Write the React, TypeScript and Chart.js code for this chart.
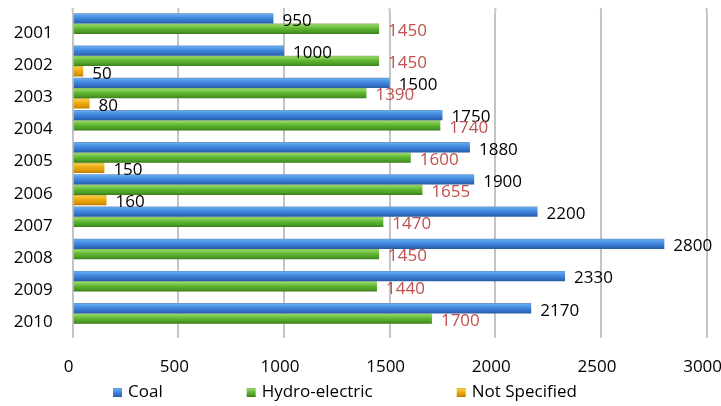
import { useEffect, useRef } from "react";
import { Chart, registerables } from "chart.js";

Chart.register(...registerables);

// Electricity generation by source, 2001–2010
const years = ["2001", "2002", "2003", "2004", "2005", "2006", "2007", "2008", "2009", "2010"];
const coal = [950, 1000, 1500, 1750, 1880, 1900, 2200, 2800, 2330, 2170];
const hydro = [1450, 1450, 1390, 1740, 1600, 1655, 1470, 1450, 1440, 1700];
const notSpecified = [null, 50, 80, null, 150, 160, null, null, null, null];
const seriesNames = ["Coal", "Hydro-electric", "Not Specified"];
const xMin = 0;
const xMax = 3000;
const xStep = 500;

const FONT = '"Open Sans", "Noto Sans", sans-serif';
const GRID = "#c4c4c4";

// Vertical shading stops for each series (top edge -> bottom edge)
const shades: [number, string][][] = [
  [[0, "#6a8fbe"], [0.12, "#62a8ee"], [0.45, "#4189dd"], [0.8, "#306dc2"], [1, "#2a5a9e"]],
  [[0, "#86b062"], [0.12, "#93d661"], [0.45, "#62b834"], [0.8, "#4b9b25"], [1, "#3a7a1a"]],
  [[0, "#caa23e"], [0.12, "#f8ca44"], [0.45, "#ebab12"], [0.8, "#da9500"], [1, "#b87c00"]],
];
const flatColors = ["#3f86d8", "#5db331", "#e8a60c"];
const labelColors = ["#000000", "#c0504d", "#000000"];

function makeGradient(ctx: CanvasRenderingContext2D, top: number, bottom: number, stops: [number, string][]) {
  const g = ctx.createLinearGradient(0, top, 0, bottom);
  stops.forEach(([o, c]) => g.addColorStop(o, c));
  return g;
}

// Carries the vertical grid lines a little above the plotting area
const gridCap = {
  id: "gridCap",
  beforeDatasetsDraw(chart: any) {
    const ctx = chart.ctx;
    const xs = chart.scales.x;
    ctx.save();
    ctx.strokeStyle = GRID;
    ctx.lineWidth = 2;
    xs.ticks.forEach((t: any) => {
      const px = xs.getPixelForValue(t.value);
      ctx.beginPath();
      ctx.moveTo(px, 8);
      ctx.lineTo(px, chart.chartArea.top);
      ctx.stroke();
    });
    ctx.restore();
  },
};

// Gives each bar a glossy top-to-bottom shading based on its own position
const barShading = {
  id: "barShading",
  beforeDatasetsDraw(chart: any) {
    const ctx = chart.ctx;
    chart.data.datasets.forEach((_: any, di: number) => {
      const meta = chart.getDatasetMeta(di);
      meta.data.forEach((el: any) => {
        const { y, height } = el.getProps(["y", "height"], true);
        const g = makeGradient(ctx, y - height / 2, y + height / 2, shades[di]);
        el.options = Object.assign({}, el.options, { backgroundColor: g });
      });
    });
  },
};

// Value labels drawn just past the end of each bar
const valueLabels = {
  id: "valueLabels",
  afterDatasetsDraw(chart: any) {
    const ctx = chart.ctx;
    ctx.save();
    ctx.font = `17px ${FONT}`;
    ctx.textAlign = "left";
    ctx.textBaseline = "middle";
    chart.data.datasets.forEach((ds: any, di: number) => {
      const meta = chart.getDatasetMeta(di);
      meta.data.forEach((el: any, i: number) => {
        const v = ds.data[i];
        if (v === null || v === undefined) return;
        const { x, y } = el.getProps(["x", "y"], true);
        ctx.fillStyle = labelColors[di];
        ctx.fillText(String(v), x + 9, y + 2.5);
      });
    });
    ctx.restore();
  },
};

// Legend row under the axis labels
const bottomLegend = {
  id: "bottomLegend",
  afterDraw(chart: any) {
    const ctx = chart.ctx;
    ctx.save();
    ctx.font = `17px ${FONT}`;
    ctx.textBaseline = "middle";
    ctx.textAlign = "left";
    const box = 9;
    const boxGap = 6;
    const itemGap = 84;
    const labels = chart.data.datasets.map((d: any) => d.label as string);
    let x = 113;
    const cy = 392.5;
    labels.forEach((t: string, i: number) => {
      ctx.fillStyle = makeGradient(ctx, cy - box / 2, cy + box / 2, shades[i]);
      ctx.fillRect(x, cy - box / 2, box, box);
      ctx.fillStyle = "#000000";
      ctx.fillText(t, x + box + boxGap, cy);
      x += box + boxGap + ctx.measureText(t).width + itemGap;
    });
    ctx.restore();
  },
};

export default function App() {
  const canvasRef = useRef<HTMLCanvasElement | null>(null);

  useEffect(() => {
    const canvas = canvasRef.current;
    if (!canvas) return;
    const series = [coal, hydro, notSpecified];
    const chart = new Chart(canvas, {
      type: "bar",
      data: {
        labels: years,
        datasets: series.map((d, i) => ({
          label: seriesNames[i],
          data: d as any,
          backgroundColor: flatColors[i],
          borderWidth: 0,
          categoryPercentage: 0.96,
          barPercentage: 1,
        })),
      },
      options: {
        indexAxis: "y",
        responsive: false,
        animation: false,
        events: [],
        layout: { padding: { top: 12.65, right: 14.4, bottom: 31.35, left: 0 } },
        plugins: {
          legend: { display: false },
          tooltip: { enabled: false },
        },
        scales: {
          x: {
            min: xMin,
            max: xMax,
            ticks: {
              stepSize: xStep,
              padding: 19,
              labelOffset: -4,
              color: "#000000",
              font: { family: FONT, size: 17 },
              maxRotation: 0,
              callback: (v: any) => String(v),
            },
            grid: { color: GRID, lineWidth: 2, drawTicks: true, tickLength: 3 },
            border: { display: false },
            afterFit(scale: any) {
              scale.height = 40;
              scale.paddingLeft = 0;
              scale.paddingRight = 0;
            },
          },
          y: {
            ticks: {
              padding: 20,
              labelOffset: 4,
              color: "#000000",
              font: { family: FONT, size: 17 },
            },
            grid: { display: false, drawTicks: false },
            border: { display: false },
            afterFit(scale: any) {
              scale.width = 72.7;
              scale.paddingTop = 0;
              scale.paddingBottom = 0;
            },
          },
        },
      },
      plugins: [gridCap, barShading, valueLabels, bottomLegend],
    });
    return () => chart.destroy();
  }, []);

  return (
    <div style={{ position: "absolute", left: 0, top: 0, width: 721, height: 406, background: "#ffffff" }}>
      <canvas ref={canvasRef} width={721} height={406} style={{ display: "block" }} />
    </div>
  );
}
